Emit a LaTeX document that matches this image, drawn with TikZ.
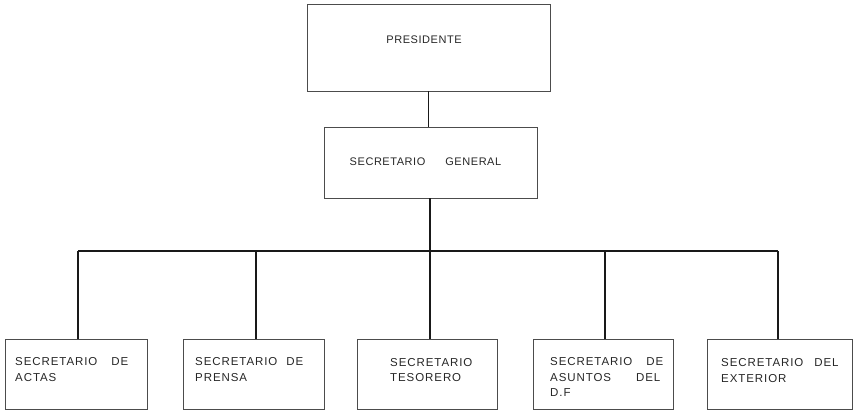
\documentclass[tikz,border=0pt]{standalone}
\usepackage{fontspec}
\setmainfont{Liberation Sans}
\newfontfamily\boxfont[LetterSpace=8]{Liberation Sans}
\newfontfamily\topfont[LetterSpace=5]{Liberation Sans}
\begin{document}
\begin{tikzpicture}[x=1pt,y=-1pt,
  orgbox/.style={draw=black!70, line width=0.8pt, inner sep=0pt, rectangle},
  link/.style={draw=black!90, line width=1.1pt},
  toptext/.style={inner sep=0pt, text=black!85, font=\topfont\fontsize{11}{14}\selectfont},
  lowtext/.style={inner sep=0pt, anchor=north west, align=left, text=black!85, font=\boxfont\fontsize{11.5}{15.5}\selectfont}]
\useasboundingbox (0,0) rectangle (860,410);
% top boxes
\node[orgbox, minimum width=243pt, minimum height=87pt] (pres) at (428.5,47.5) {};
\node[orgbox, minimum width=213pt, minimum height=71pt] (sg) at (430.5,162.5) {};
% bottom boxes
\node[orgbox, minimum width=142pt, minimum height=69.5pt] (b1) at (76,374.25) {};
\node[orgbox, minimum width=141pt, minimum height=69.5pt] (b2) at (253.5,374.25) {};
\node[orgbox, minimum width=140pt, minimum height=69.5pt] (b3) at (427,374.25) {};
\node[orgbox, minimum width=140pt, minimum height=69.5pt] (b4) at (603,374.25) {};
\node[orgbox, minimum width=145pt, minimum height=69.5pt] (b5) at (779.5,374.25) {};
% texts
\node[toptext] (tpres) at (424,40) {PRESIDENTE};
\node[toptext] (tsg) at (425.5,162) {SECRETARIO\hspace{20pt}GENERAL};
\node[lowtext] (t1) at (15,357.5) {SECRETARIO\hspace{14pt}DE\\ACTAS};
\node[lowtext] (t2) at (195,357.5) {SECRETARIO\hspace{9pt}DE\\PRENSA};
\node[lowtext] (t3) at (390,358) {SECRETARIO\\TESORERO};
\node[lowtext] (t4) at (550,357.5) {SECRETARIO\hspace{14pt}DE\\ASUNTOS\hspace{25pt}DEL\\D.F};
\node[lowtext] (t5) at (721,358.5) {SECRETARIO\hspace{11pt}DEL\\EXTERIOR};
% bus junctions
\coordinate (j1) at (78,251);
\coordinate (j2) at (256,251);
\coordinate (j3) at (430,251);
\coordinate (j4) at (605,251);
\coordinate (j5) at (778,251);
% connectors
\draw[link] (pres.south) -- (pres.south |- sg.north);
\draw[link] (j3 |- sg.south) -- (j3);
\draw[link] (j1) -- (j5);
\draw[link] (j1) -- (j1 |- b1.north);
\draw[link] (j2) -- (j2 |- b2.north);
\draw[link] (j3) -- (j3 |- b3.north);
\draw[link] (j4) -- (j4 |- b4.north);
\draw[link] (j5) -- (j5 |- b5.north);
\end{tikzpicture}
\end{document}
